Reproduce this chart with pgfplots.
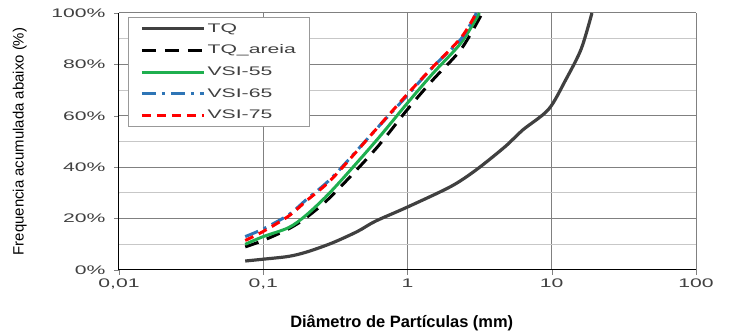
\documentclass[border=0pt]{standalone}
\usepackage{fontspec}
\setmainfont{Liberation Sans}
\usepackage{graphicx}
\usepackage{pgfplots}
\pgfplotsset{compat=1.18}
\newcommand\W[1]{\scalebox{1.7}[1]{#1}}
\definecolor{tqgray}{HTML}{404040}
\definecolor{vgreen}{HTML}{1FAF4F}
\definecolor{vblue}{HTML}{2E75B6}
\definecolor{vred}{HTML}{FF0000}
\begin{document}
\begin{tikzpicture}
\path (0,0) rectangle (730bp,332bp);
\begin{axis}[
  at={(119bp,62bp)}, anchor=south west,
  scale only axis, width=577bp, height=257bp,
  xmode=log, log basis x=10,
  xmin=0.01, xmax=100, ymin=0, ymax=100,
  axis x line*=bottom, axis y line*=left,
  axis line style={black, line width=1pt},
  xtick={0.01,0.1,1,10,100},
  xticklabels={\W{0,01},\W{0,1},\W{1},\W{10},\W{100}},
  ytick={0,20,40,60,80,100},
  yticklabels={\W{0\%},\W{20\%},\W{40\%},\W{60\%},\W{80\%},\W{100\%}},
  minor y tick num=1,
  grid=both,
  major grid style={black!50, line width=1pt},
  minor grid style={black!22, line width=1pt},
  tick align=outside, major tick length=5bp, minor tick length=0.01pt,
  ticklabel style={font=\fontsize{12.5}{14}\selectfont, text=black!75},
  yticklabel style={xshift=-5bp},
  xlabel={\textbf{Diâmetro de Partículas (mm)}},
  xlabel style={font=\fontsize{16.5}{18}\selectfont, at={(axis description cs:0.49,-0.206)}, anchor=center},
  ylabel={Frequencia acumulada abaixo (\%)},
  ylabel style={font=\fontsize{15}{17}\selectfont, at={(axis description cs:-0.172,0.5)}, anchor=center},
  legend cell align=left,
  legend image code/.code={\draw[#1] (0bp,0bp) -- (62bp,0bp);},
  legend style={at={(axis description cs:0.0156,0.984)}, anchor=north west,
    font=\fontsize{12.5}{14}\selectfont, text=black!75, draw=black!40, line width=0.8pt, fill=white,
    inner xsep=12bp, inner ysep=2.6bp, row sep=4.7bp,
    nodes={inner sep=2bp, text depth=3bp, text height=10bp}},
]
\addplot[tqgray, line width=3.2pt, smooth] coordinates {
(0.075,3.5) (0.1,4.2) (0.15,5.3) (0.2,7) (0.3,10.5) (0.45,15) (0.6,19) (1,24.5)
(2,32.5) (3,39) (4.75,48) (6.3,54.5) (9.5,62.5) (12.5,74) (16,86) (19,100)};
\addlegendentry{\W{TQ}}
\addplot[black, line width=3pt, dash pattern=on 14bp off 9bp, smooth] coordinates {
(0.075,9) (0.1,11.5) (0.15,16) (0.2,20.5) (0.3,29) (0.6,47) (1,62.5)
(1.5,74) (2.36,86) (3.3,100)};
\addlegendentry{\W{TQ\_areia}}
\addplot[vgreen, line width=3pt, smooth] coordinates {
(0.075,10) (0.1,13) (0.15,16.5) (0.2,21.5) (0.3,31) (0.6,50) (1,65)
(1.5,76.5) (2.36,88.5) (3.15,100)};
\addlegendentry{\W{VSI-55}}
\addplot[vblue, line width=3pt, dash pattern=on 14bp off 6bp on 3bp off 6bp, smooth] coordinates {
(0.075,13) (0.1,16) (0.15,21.5) (0.2,27.5) (0.3,36) (0.6,54.5) (1,68)
(1.5,79) (2.36,90) (3.0,100)};
\addlegendentry{\W{VSI-65}}
\addplot[vred, line width=3pt, dash pattern=on 9bp off 6bp, smooth] coordinates {
(0.075,11.5) (0.1,15) (0.15,21) (0.2,27) (0.3,35.5) (0.6,54.5) (1,68.5)
(1.5,79) (2.36,90.5) (3.0,100)};
\addlegendentry{\W{VSI-75}}
\end{axis}
\end{tikzpicture}
\end{document}
